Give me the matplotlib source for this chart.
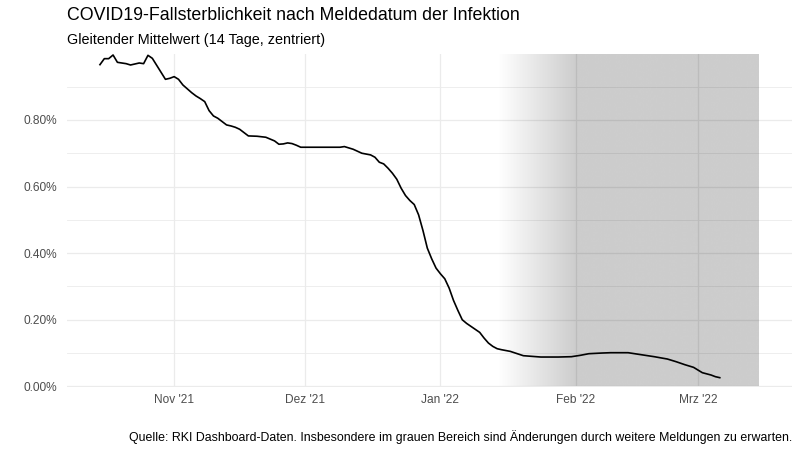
import matplotlib
matplotlib.use("Agg")
import matplotlib.pyplot as plt
import matplotlib.dates as mdates
import numpy as np
import pandas as pd

# ---- data ----
dates = ["2021-10-15", "2021-10-16", "2021-10-17", "2021-10-18", "2021-10-19", "2021-10-21",
         "2021-10-22", "2021-10-24", "2021-10-25", "2021-10-26", "2021-10-27", "2021-10-30",
         "2021-10-31", "2021-11-01", "2021-11-02", "2021-11-03", "2021-11-05", "2021-11-06",
         "2021-11-07", "2021-11-08", "2021-11-09", "2021-11-10", "2021-11-11", "2021-11-13",
         "2021-11-14", "2021-11-15", "2021-11-16", "2021-11-18", "2021-11-20", "2021-11-22",
         "2021-11-24", "2021-11-25", "2021-11-26", "2021-11-27", "2021-11-28", "2021-11-29",
         "2021-11-30", "2021-12-05", "2021-12-09", "2021-12-10", "2021-12-12", "2021-12-14",
         "2021-12-16", "2021-12-17", "2021-12-18", "2021-12-19", "2021-12-20", "2021-12-21",
         "2021-12-22", "2021-12-23", "2021-12-24", "2021-12-25", "2021-12-26", "2021-12-27",
         "2021-12-28", "2021-12-29", "2021-12-30", "2021-12-31", "2022-01-01", "2022-01-02",
         "2022-01-03", "2022-01-04", "2022-01-05", "2022-01-06", "2022-01-07", "2022-01-08",
         "2022-01-09", "2022-01-10", "2022-01-11", "2022-01-12", "2022-01-13", "2022-01-14",
         "2022-01-15", "2022-01-17", "2022-01-20", "2022-01-24", "2022-01-28", "2022-01-31",
         "2022-02-02", "2022-02-04", "2022-02-07", "2022-02-09", "2022-02-13", "2022-02-16",
         "2022-02-19", "2022-02-22", "2022-02-24", "2022-02-26", "2022-02-28", "2022-03-02",
         "2022-03-04", "2022-03-05", "2022-03-06"]
cfr_pct = [0.966, 0.984, 0.984, 0.995, 0.973, 0.969,
           0.965, 0.971, 0.969, 0.994, 0.985, 0.922,
           0.925, 0.930, 0.922, 0.905, 0.882, 0.872,
           0.864, 0.855, 0.828, 0.812, 0.805, 0.785,
           0.782, 0.778, 0.772, 0.752, 0.751, 0.748,
           0.737, 0.727, 0.728, 0.731, 0.729, 0.724,
           0.718, 0.718, 0.718, 0.720, 0.712, 0.700,
           0.695, 0.688, 0.673, 0.668, 0.655, 0.640,
           0.622, 0.595, 0.573, 0.558, 0.546, 0.515,
           0.468, 0.415, 0.383, 0.355, 0.338, 0.323,
           0.295, 0.258, 0.228, 0.200, 0.189, 0.180,
           0.171, 0.162, 0.145, 0.130, 0.120, 0.113,
           0.110, 0.105, 0.092, 0.088, 0.088, 0.089,
           0.093, 0.098, 0.100, 0.101, 0.101, 0.095,
           0.089, 0.082, 0.074, 0.065, 0.057, 0.041,
           0.034, 0.029, 0.026]

x_ticks = ["2021-11-01", "2021-12-01", "2022-01-01", "2022-02-01", "2022-03-01"]
x_tick_labels = ["Nov '21", "Dez '21", "Jan '22", "Feb '22", "Mrz '22"]
y_ticks = [0.0, 0.2, 0.4, 0.6, 0.8]
y_minor = [0.1, 0.3, 0.5, 0.7, 0.9]

gray_fade_start = "2022-01-14"
gray_full_start = "2022-02-01"
gray_end = "2022-03-15"

title = "COVID19-Fallsterblichkeit nach Meldedatum der Infektion"
subtitle = "Gleitender Mittelwert (14 Tage, zentriert)"
caption = "Quelle: RKI Dashboard-Daten. Insbesondere im grauen Bereich sind Änderungen durch weitere Meldungen zu erwarten."

# ---- plot ----
plt.rcParams['font.family'] = ['Liberation Sans', 'DejaVu Sans']

W, H = 800, 450
fig = plt.figure(figsize=(8, 4.5), dpi=100)
left, right, top, bottom = 67, 792, 54, 387
ax = fig.add_axes([left / W, 1 - bottom / H, (right - left) / W, (bottom - top) / H])

d = pd.to_datetime(dates)
xn = mdates.date2num(d)

x0 = mdates.date2num(pd.Timestamp(dates[0]))
x1 = mdates.date2num(pd.Timestamp(gray_end))
pad = (x1 - x0) * 0.05
ymax = 0.998

# gradient gray region
fs = mdates.date2num(pd.Timestamp(gray_fade_start))
ff = mdates.date2num(pd.Timestamp(gray_full_start))
n = 400
xs = np.linspace(fs, x1, n)
alpha = np.clip((xs - fs) / (ff - fs), 0, 1) * 0.2
img = np.zeros((1, n, 4))
img[0, :, 3] = alpha
ax.imshow(img, extent=[fs, x1, 0, ymax], aspect='auto', zorder=2, interpolation='bilinear')

ax.plot(xn, cfr_pct, color='black', lw=1.2, zorder=3)

ax.set_xticks(mdates.date2num(pd.to_datetime(x_ticks)))
ax.set_xticklabels(x_tick_labels)
ax.set_yticks(y_ticks)
ax.set_yticklabels([f"{v:.2f}%" for v in y_ticks])
ax.set_yticks(y_minor, minor=True)

ax.grid(True, which='major', color='#EBEBEB', lw=0.9, zorder=0)
ax.grid(True, which='minor', axis='y', color='#EBEBEB', lw=0.6, zorder=0)
ax.set_axisbelow(True)
for s in ax.spines.values():
    s.set_visible(False)
ax.tick_params(which='both', length=0, labelsize=8.6, labelcolor='#4D4D4D')
ax.tick_params(axis='y', pad=7)
ax.tick_params(axis='x', pad=5)
ax.set_xlim(x0 - pad, x1 + pad)
ax.set_ylim(-0.002, ymax)

fig.text(67 / W, 1 - 16 / H, title, fontsize=12.8, va='center', ha='left', color='black')
fig.text(67 / W, 1 - 40 / H, subtitle, fontsize=10.4, va='center', ha='left', color='black')
fig.text(792 / W, 1 - 437 / H, caption, fontsize=8.9, va='center', ha='right', color='black')

fig.savefig("out.png", dpi=100)
